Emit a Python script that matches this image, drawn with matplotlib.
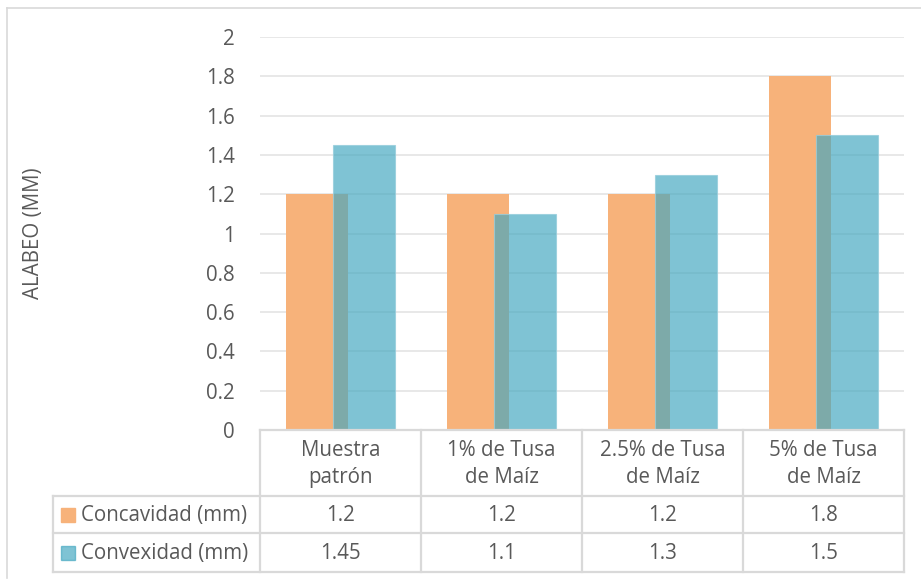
import matplotlib
matplotlib.use("Agg")
import matplotlib.pyplot as plt
from matplotlib.patches import Rectangle
from matplotlib.lines import Line2D
import numpy as np

categories = ["Muestra\npatrón", "1% de Tusa\nde Maíz", "2.5% de Tusa\nde Maíz", "5% de Tusa\nde Maíz"]
series_names = ["Concavidad (mm)", "Convexidad (mm)"]
concavidad = [1.2, 1.2, 1.2, 1.8]
convexidad = [1.45, 1.1, 1.3, 1.5]
concavidad_labels = ["1.2", "1.2", "1.2", "1.8"]
convexidad_labels = ["1.45", "1.1", "1.3", "1.5"]
yticks = [0, 0.2, 0.4, 0.6, 0.8, 1, 1.2, 1.4, 1.6, 1.8, 2]
ytick_labels = ["0", "0.2", "0.4", "0.6", "0.8", "1", "1.2", "1.4", "1.6", "1.8", "2"]

W, H = 921, 581
FONT = "Open Sans"
FS = 14.8
TXT = "#595959"
GRID = "#E6E6E6"
TLINE = "#D9D9D9"
ORANGE = (247/255, 178/255, 122/255)
BLUE = (67/255, 167/255, 192/255, 0.68)

fig = plt.figure(figsize=(W/100, H/100), dpi=100)

def fx(px):
    return px / W

def fy(py):
    return 1 - py / H

# plot area
x0, x1 = 260, 904
y_top, y_zero = 37, 430
ax = fig.add_axes([fx(x0), fy(y_zero), fx(x1) - fx(x0), fy(y_top) - fy(y_zero)])
n = len(categories)
ax.set_xlim(0, n)
ax.set_ylim(0, 2)
idx = np.arange(n) + 0.5
bw = 0.385
off = 0.147
ax.bar(idx - off, concavidad, bw, color=ORANGE, zorder=2)
ax.bar(idx + off, convexidad, bw, color=BLUE, edgecolor=(150/255, 205/255, 220/255, 0.8),
       linewidth=0.8, zorder=3)
ax.set_yticks(yticks)
ax.set_yticklabels(ytick_labels)
ax.yaxis.grid(True, color=GRID, lw=1.3, zorder=0)
ax.set_axisbelow(True)
ax.tick_params(axis="y", length=0, pad=18, labelsize=FS, labelcolor=TXT)
for lab in ax.get_yticklabels():
    lab.set_family(FONT)
ax.set_xticks([])
for s in ax.spines.values():
    s.set_visible(False)

fig.text(fx(33), fy(233), "ALABEO (MM)", rotation=90, ha="center", va="center",
         family=FONT, fontsize=FS, color=TXT)

# chart border
fig.add_artist(Line2D([fx(7), fx(7)], [fy(8), fy(578)], color=TLINE, lw=1.2, transform=fig.transFigure))
fig.add_artist(Line2D([fx(7), fx(921)], [fy(8), fy(8)], color=TLINE, lw=1.2, transform=fig.transFigure))

# data table
col_x = [x0 + i * (x1 - x0) / n for i in range(n + 1)]
row_y = [430, 496, 533, 572]
leg_x = 53

def hline(xa, xb, y):
    fig.add_artist(Line2D([fx(xa), fx(xb)], [fy(y), fy(y)], color=TLINE, lw=1.6, transform=fig.transFigure))

def vline(x, ya, yb):
    fig.add_artist(Line2D([fx(x), fx(x)], [fy(ya), fy(yb)], color=TLINE, lw=1.6, transform=fig.transFigure))

hline(x0, x1, row_y[0])
for y in row_y[1:]:
    hline(leg_x, x1, y)
for x in col_x:
    vline(x, row_y[0], row_y[3])
vline(leg_x, row_y[1], row_y[3])

for i, cat in enumerate(categories):
    cx = (col_x[i] + col_x[i + 1]) / 2
    fig.text(fx(cx), fy((row_y[0] + row_y[1]) / 2 + 1), cat, ha="center", va="center",
             family=FONT, fontsize=FS, color=TXT, linespacing=1.42)
    fig.text(fx(cx), fy((row_y[1] + row_y[2]) / 2 + 1), concavidad_labels[i], ha="center", va="center",
             family=FONT, fontsize=FS, color=TXT)
    fig.text(fx(cx), fy((row_y[2] + row_y[3]) / 2 + 1), convexidad_labels[i], ha="center", va="center",
             family=FONT, fontsize=FS, color=TXT)

for r, (name, col) in enumerate(zip(series_names, [ORANGE, BLUE])):
    yc = (row_y[r + 1] + row_y[r + 2]) / 2
    fig.add_artist(Rectangle((fx(61), fy(yc + 7)), fx(14), fy(0) - fy(14), color=col,
                             transform=fig.transFigure))
    fig.text(fx(81), fy(yc + 1), name, ha="left", va="center", family=FONT, fontsize=FS, color=TXT)

fig.savefig("out.png", dpi=100)
